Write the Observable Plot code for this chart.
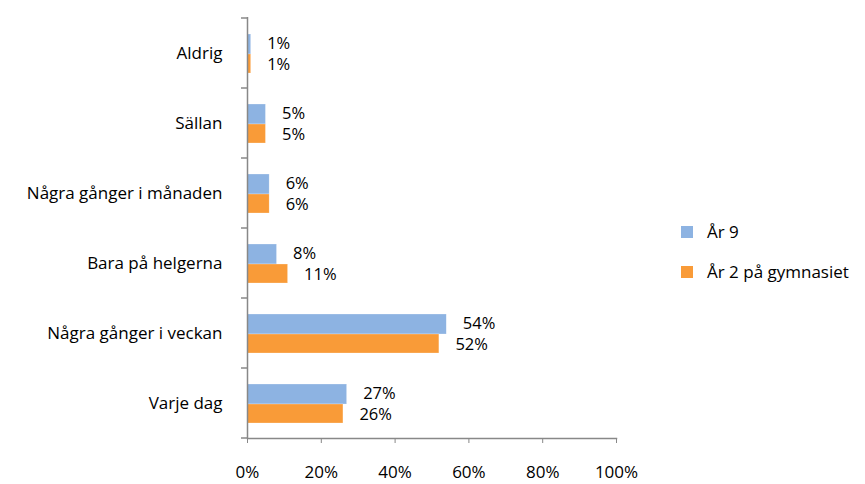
<!DOCTYPE html>
<html><head><meta charset="utf-8">
<script src="https://cdn.jsdelivr.net/npm/d3@7"></script>
<script src="https://cdn.jsdelivr.net/npm/@observablehq/plot@0.6"></script>
<style>
body{margin:0;background:#fff;font-family:"Open Sans",sans-serif;}
#wrap{position:relative;width:865px;height:484px;}
.leg{position:absolute;left:681px;font-size:17px;color:#000;display:flex;align-items:center;}
.leg span.sw{display:inline-block;width:12px;height:12px;margin-right:14px;}
</style></head>
<body><div id="wrap"></div>
<script>
const categories = ["Aldrig","Sällan","Några gånger i månaden","Bara på helgerna","Några gånger i veckan","Varje dag"];
const series = ["År 9","År 2 på gymnasiet"];
const ar9 = [1,5,6,8,54,27];
const gym = [1,5,6,11,52,26];
const xTicks = [0,20,40,60,80,100];
const colors = ["#8DB3E2","#F99B38"];

const rows9 = categories.map((c,i)=>({cat:c, v:ar9[i]}));
const rowsG = categories.map((c,i)=>({cat:c, v:gym[i]}));

const plot = Plot.plot({
  width:865, height:484,
  marginLeft:247, marginRight:249, marginTop:17, marginBottom:46,
  style:{fontFamily:"Open Sans, sans-serif", fontSize:"17px", color:"#000", background:"#fff", overflow:"visible"},
  x:{domain:[0,100], ticks:xTicks, tickFormat:d=>d+"%", label:null},
  y:{domain:categories, padding:0, label:null},
  marks:[
    Plot.barX(rows9,{x:"v", y:"cat", fill:colors[0], insetTop:16, insetBottom:34, stroke:"#fff", strokeOpacity:0.5, strokeWidth:0.5}),
    Plot.barX(rowsG,{x:"v", y:"cat", fill:colors[1], insetTop:36, insetBottom:15, stroke:"#fff", strokeOpacity:0.5, strokeWidth:0.5}),
    Plot.text(rows9,{x:"v", y:"cat", text:d=>d.v+"%", dx:16, dy:-10, textAnchor:"start", fill:"#000", fontSize:16.5}),
    Plot.text(rowsG,{x:"v", y:"cat", text:d=>d.v+"%", dx:16, dy:11, textAnchor:"start", fill:"#000", fontSize:16.5}),
    Plot.axisX({ticks:xTicks, tickFormat:d=>d+"%", tickSize:5, tickPadding:22, stroke:"#888", fontSize:17, color:"#000"}),
    Plot.axisY({tickSize:0, tickPadding:25, fontSize:17}),
    Plot.ruleX([0],{stroke:"#888", strokeWidth:1.5}),
    Plot.frame({anchor:"bottom", stroke:"#888", strokeWidth:1.5})
  ]
});

// boundary ticks on the y axis (from the band scale)
const ys = plot.scale("y");
const bw = ys.bandwidth;
const svg = d3.select(plot);
const bounds = categories.map(c=>ys.apply(c)).concat([ys.apply(categories[categories.length-1])+bw]);
const x0 = plot.scale("x").apply(0);
svg.append("g").selectAll("line").data(bounds).join("line")
  .attr("x1",x0-6).attr("x2",x0).attr("y1",d=>d).attr("y2",d=>d)
  .attr("stroke","#888").attr("stroke-width",1.5);

const wrap = document.getElementById("wrap");
wrap.appendChild(plot);
series.forEach((s,i)=>{
  const d = document.createElement("div");
  d.className="leg";
  d.style.top = (220 + i*40) + "px";
  d.innerHTML = `<span class="sw" style="background:${colors[i]}"></span><span>${s}</span>`;
  wrap.appendChild(d);
});
</script>
</body></html>
